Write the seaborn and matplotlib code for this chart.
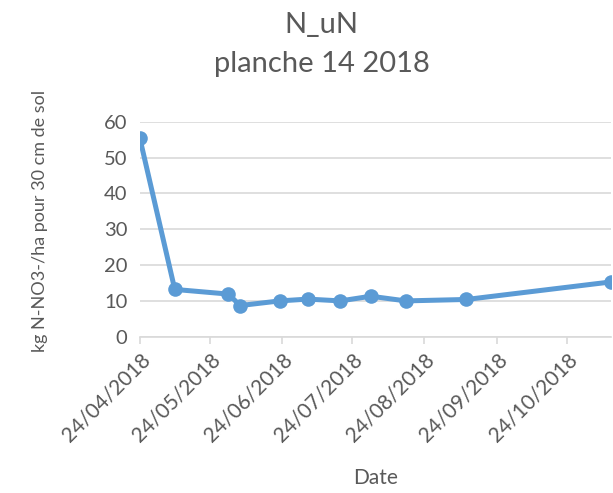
import pandas as pd
import matplotlib.pyplot as plt
import matplotlib.dates as mdates
import seaborn as sns

# values
dates = ["24/04/2018", "09/05/2018", "01/06/2018", "06/06/2018", "23/06/2018",
         "05/07/2018", "19/07/2018", "01/08/2018", "16/08/2018", "11/09/2018",
         "12/11/2018"]
nitrate = [55.5, 13.2, 11.9, 8.7, 10.0, 10.5, 10.0, 11.3, 10.0, 10.4, 15.3]
tick_dates = ["24/04/2018", "24/05/2018", "24/06/2018", "24/07/2018",
              "24/08/2018", "24/09/2018", "24/10/2018"]

df = pd.DataFrame({"date": pd.to_datetime(dates, format="%d/%m/%Y"), "value": nitrate})

sns.set_style("white")
plt.rcParams["font.family"] = ["Lato", "DejaVu Sans"]

grey = "#595959"
fig = plt.figure(figsize=(6.13, 4.93), dpi=100)
ax = fig.add_axes([0.228, 0.317, 0.769, 0.436])

sns.lineplot(data=df, x="date", y="value", ax=ax, color="#5B9BD5", linewidth=3.6,
             marker="o", markersize=10.5, markeredgewidth=0, zorder=3)

ax.set_xlim(df["date"].min(), df["date"].max())
ax.set_ylim(0, 60)
ax.set_yticks(range(0, 61, 10))
ax.yaxis.grid(True, color="#D9D9D9", linewidth=1.2)
ax.xaxis.grid(False)

ticks = pd.to_datetime(tick_dates, format="%d/%m/%Y")
ax.set_xticks(ticks)
ax.xaxis.set_major_formatter(mdates.DateFormatter("%d/%m/%Y"))
plt.setp(ax.get_xticklabels(), rotation=45, ha="right", rotation_mode="anchor")

for s in ["left", "right", "top"]:
    ax.spines[s].set_visible(False)
ax.spines["bottom"].set_color("#D9D9D9")
ax.spines["bottom"].set_linewidth(1.2)
ax.tick_params(axis="x", colors=grey, labelsize=15, length=5, width=1.2,
               color="#D9D9D9", direction="out", pad=4, bottom=True)
ax.tick_params(axis="y", colors=grey, labelsize=14.5, length=0, pad=9)

ax.set_xlabel("Date", fontsize=15, color=grey)
ax.xaxis.set_label_coords(0.5, -0.61)
ax.set_ylabel("kg N-NO3-/ha pour 30 cm de sol", fontsize=13, color=grey)
ax.yaxis.set_label_coords(-0.195, 0.54)

fig.text(0.525, 1 - 33 / 493, "N_uN", fontsize=21, color=grey, ha="center", va="baseline")
fig.text(0.525, 1 - 72 / 493, "planche 14 2018", fontsize=21, color=grey,
         ha="center", va="baseline")

fig.savefig("out.png", dpi=100)
